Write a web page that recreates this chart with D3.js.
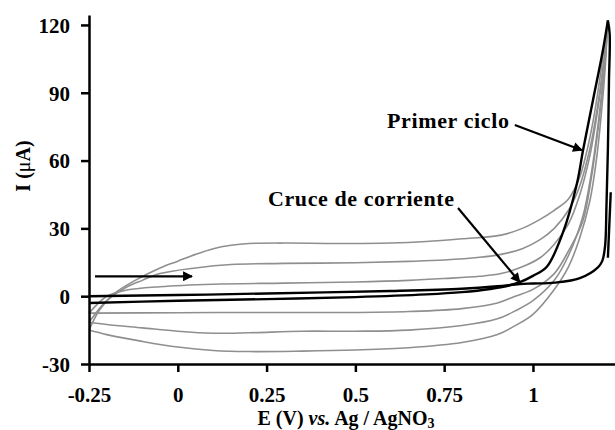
<!DOCTYPE html>
<html>
<head>
<meta charset="utf-8">
<script src="https://cdn.jsdelivr.net/npm/d3@7"></script>
<style>
  body { margin: 0; background: #fff; }
  svg text { font-family: "Liberation Serif", "Times New Roman", serif; font-weight: bold; }
</style>
</head>
<body>
<div id="chart"></div>
<script>
// Voltammogram data, [E (V), I (uA)]

// tick values
const xTicks = [-0.25, 0, 0.25, 0.5, 0.75, 1];
const yTicks = [-30, 0, 30, 60, 90, 120];

// first cycle (black)
const blackForward = [
    [-0.25, -3], [0, -2], [0.25, -1.3], [0.5, -0.4], [0.7, 0.8], [0.8, 1.8],
    [0.88, 3.2], [0.93, 4.6], [0.963, 6.2], [1.0, 9], [1.039, 13], [1.084, 28],
    [1.124, 50], [1.141, 64.6], [1.169, 86.7], [1.197, 108.8], [1.211, 122]
];
const blackReverse = [
    [1.211, 122], [1.216, 116], [1.214, 95], [1.211, 65], [1.207, 40], [1.203, 22],
    [1.195, 15.5], [1.183, 12.8], [1.132, 8], [1.062, 6], [1.0, 5.6], [0.963, 5.4],
    [0.9, 4.4], [0.8, 3.3], [0.6, 2.3], [0.25, 1.2], [0, 0.5], [-0.25, 0]
];
const blackTail = [[1.219, 46], [1.211, 17]];

// later cycles (grey), forward = upper branch, reverse = lower branch
const grey1Forward = [
    [-0.25, -15], [-0.22, -6], [-0.18, 1], [-0.12, 7], [-0.05, 12.5], [0, 15.5],
    [0.05, 18.5], [0.1, 21], [0.15, 22.5], [0.2, 23.3], [0.3, 23.5], [0.45, 23.3],
    [0.6, 23.5], [0.7, 24.2], [0.8, 25.4], [0.91, 27], [0.97, 30], [1.02, 34],
    [1.06, 38], [1.1, 43], [1.13, 52], [1.15, 63], [1.17, 78], [1.19, 98],
    [1.2, 110], [1.21, 121]
];
const grey2Forward = [
    [-0.25, -11.5], [-0.2, -2], [-0.15, 3.5], [-0.1, 7], [-0.05, 10], [0.05, 12.5],
    [0.15, 14], [0.3, 14.5], [0.5, 14.8], [0.65, 15.4], [0.75, 16], [0.85, 17.2],
    [0.91, 18.5], [0.97, 21], [1.02, 25], [1.06, 30], [1.1, 38], [1.13, 48],
    [1.16, 65], [1.18, 82], [1.2, 105], [1.21, 120]
];
const grey3Forward = [
    [-0.25, -7.5], [-0.2, 0], [-0.15, 2.5], [-0.05, 4.2], [0.1, 5.3], [0.3, 5.8],
    [0.5, 6.3], [0.65, 7], [0.75, 7.8], [0.85, 8.8], [0.91, 10], [0.97, 13],
    [1.02, 17], [1.06, 23], [1.1, 32], [1.13, 44], [1.16, 62], [1.18, 80],
    [1.2, 103], [1.21, 119]
];
const grey1Reverse = [
    [1.21, 121], [1.205, 105], [1.195, 85], [1.18, 62], [1.16, 42], [1.13, 25],
    [1.1, 13], [1.06, 3], [1.0, -8], [0.95, -13], [0.9, -17], [0.8, -20.5],
    [0.65, -22.8], [0.5, -23.8], [0.35, -24.3], [0.2, -24.5], [0.1, -24],
    [0, -22.5], [-0.1, -20], [-0.2, -17], [-0.25, -15]
];
const grey2Reverse = [
    [1.21, 120], [1.2, 100], [1.185, 78], [1.165, 55], [1.14, 35], [1.1, 18],
    [1.06, 7], [1.0, -2], [0.95, -6.5], [0.9, -10], [0.8, -13], [0.65, -15],
    [0.5, -15.5], [0.35, -15.5], [0.2, -16.2], [0.1, -16.4], [0, -15.5],
    [-0.1, -14], [-0.2, -12.5], [-0.25, -11.5]
];
const grey3Reverse = [
    [1.21, 119], [1.2, 98], [1.185, 76], [1.165, 53], [1.14, 33], [1.1, 20],
    [1.06, 10], [1.0, 3], [0.95, 0], [0.9, -3], [0.8, -5.5], [0.65, -6.8],
    [0.5, -7.2], [0.25, -7.2], [0, -7.3], [-0.25, -7.5]
];

// annotations: arrows [from, to] in data units
const scanArrow = [[-0.233, 8.8], [0.04, 8.8]];
const firstCycleArrow = [[0.949, 75.7], [1.138, 64.6]];
const crossingArrow = [[0.789, 39], [0.963, 6.2]];

const width = 615;
const height = 430;

const svg = d3.select('#chart')
    .append('svg')
    .attr('width', width)
    .attr('height', height);

const xScale = d3.scaleLinear().domain([-0.25, 1.231]).range([89, 615]);
const yScale = d3.scaleLinear().domain([-30, 124.4]).range([364, 15]);

const line = d3.line()
    .x(d => xScale(d[0]))
    .y(d => yScale(d[1]))
    .curve(d3.curveCatmullRom.alpha(0.5));

// grey cycles first, black first cycle on top
[grey1Forward, grey2Forward, grey3Forward, grey1Reverse, grey2Reverse, grey3Reverse].forEach(s => {
    svg.append('path')
        .attr('d', line(s))
        .attr('fill', 'none')
        .attr('stroke', '#8f8f8f')
        .attr('stroke-width', 1.6);
});

[blackForward, blackReverse, blackTail].forEach(s => {
    svg.append('path')
        .attr('d', line(s))
        .attr('fill', 'none')
        .attr('stroke', '#000')
        .attr('stroke-width', 2.4);
});

// axes
const xAxis = d3.axisBottom(xScale)
    .tickValues(xTicks)
    .tickFormat(d => String(d))
    .tickSizeInner(8)
    .tickSizeOuter(0)
    .tickPadding(15);

const yAxis = d3.axisLeft(yScale)
    .tickValues(yTicks)
    .tickFormat(d => String(d))
    .tickSizeInner(8)
    .tickSizeOuter(0)
    .tickPadding(11);

const gx = svg.append('g').attr('transform', `translate(0,${yScale(-30)})`).call(xAxis);
const gy = svg.append('g').attr('transform', `translate(${xScale(-0.25)},0)`).call(yAxis);

[gx, gy].forEach(g => {
    g.select('.domain').attr('stroke', '#000').attr('stroke-width', 2.5);
    g.selectAll('.tick line').attr('stroke', '#000').attr('stroke-width', 2.5);
    g.selectAll('.tick text')
        .attr('fill', '#000')
        .attr('font-size', '21px')
        .attr('font-family', '"Liberation Serif", serif')
        .attr('font-weight', 'bold');
});
gy.selectAll('.tick text').attr('dy', '0.35em');

// axis titles
const yTitle = svg.append('text')
    .attr('transform', 'translate(30,166) rotate(-90)')
    .attr('text-anchor', 'middle')
    .attr('font-size', '20px');
yTitle.append('tspan').text('I (');
yTitle.append('tspan').attr('font-weight', 'normal').text('μ');
yTitle.append('tspan').text('A)');

const xTitle = svg.append('text')
    .attr('x', 346)
    .attr('y', 425)
    .attr('text-anchor', 'middle')
    .attr('font-size', '20px');
xTitle.append('tspan').text('E (V) ');
xTitle.append('tspan').attr('font-style', 'italic').text('vs.');
xTitle.append('tspan').text(' Ag / AgNO');
xTitle.append('tspan').attr('font-size', '14px').attr('dy', 3).text('3');

// arrowhead marker
svg.append('defs').append('marker')
    .attr('id', 'head')
    .attr('viewBox', '0 0 10 10')
    .attr('refX', 9)
    .attr('refY', 5)
    .attr('markerWidth', 6.5)
    .attr('markerHeight', 4.5)
    .attr('markerUnits', 'strokeWidth')
    .attr('orient', 'auto')
    .append('path')
    .attr('d', 'M0,0 L10,5 L0,10 Z')
    .attr('fill', '#000');

[scanArrow, firstCycleArrow, crossingArrow].forEach(a => {
    svg.append('line')
        .attr('x1', xScale(a[0][0]))
        .attr('y1', yScale(a[0][1]))
        .attr('x2', xScale(a[1][0]))
        .attr('y2', yScale(a[1][1]))
        .attr('stroke', '#000')
        .attr('stroke-width', 2.2)
        .attr('marker-end', 'url(#head)');
});

// labels
svg.append('text')
    .attr('x', 387)
    .attr('y', 128)
    .attr('font-size', '22px')
    .attr('textLength', 122)
    .attr('lengthAdjust', 'spacing')
    .text('Primer ciclo');

svg.append('text')
    .attr('x', 268)
    .attr('y', 206)
    .attr('font-size', '22px')
    .attr('textLength', 186)
    .attr('lengthAdjust', 'spacing')
    .text('Cruce de corriente');
</script>
</body>
</html>
